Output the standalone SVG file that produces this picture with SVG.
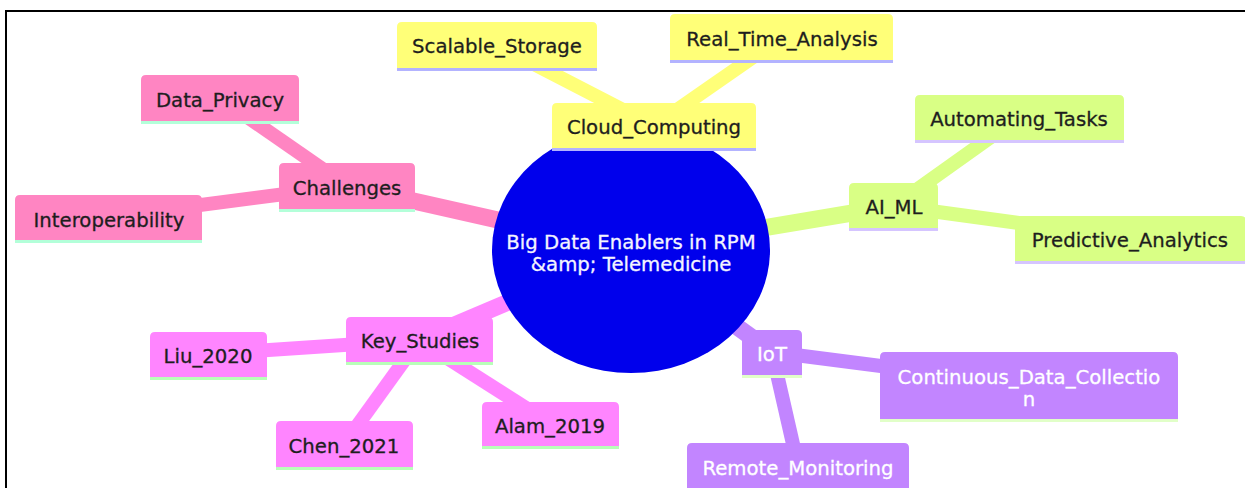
<svg xmlns="http://www.w3.org/2000/svg" width="1245" height="488" viewBox="0 0 1245 488">
  <style>
    text { font-family: "DejaVu Sans", Verdana, sans-serif; font-size: 19.7px; text-anchor: middle; fill: #1e1e1e; stroke: #1e1e1e; stroke-width: 0.3px; }
    .edge { fill: none; stroke-linecap: butt; }
    .d0 { stroke-width: 17; }
    .d1 { stroke-width: 14; }
    .line { stroke-width: 3; fill: none; }
    .pink { fill: #ff85c2; } .pink-e { stroke: #ff85c2; } .pink-l { stroke: #b3ffd9; }
    .yel { fill: #ffff78; } .yel-e { stroke: #ffff78; } .yel-l { stroke: #b3b3ff; }
    .grn { fill: #d9ff85; } .grn-e { stroke: #d9ff85; } .grn-l { stroke: #d5c5ff; }
    .mag { fill: #ff85ff; } .mag-e { stroke: #ff85ff; } .mag-l { stroke: #b8ffb8; }
    .pur { fill: #c285ff; } .pur-e { stroke: #c285ff; } .pur-l { stroke: #e1ffc8; }
    text.pur-t { fill: #ffffff; stroke: #ffffff; }
    text.root-t { fill: #f4f4ff; stroke: #f4f4ff; }
  </style>

  <!-- frame -->
  <line x1="5" y1="11" x2="1245" y2="11" stroke="#000" stroke-width="2"/>
  <line x1="6" y1="10" x2="6" y2="488" stroke="#000" stroke-width="2"/>

  <g id="connectors">
    <!-- root to sections -->
    <line class="edge d0 pink-e" x1="631" y1="250" x2="347" y2="186"/>
    <line class="edge d0 yel-e" x1="631" y1="250" x2="654" y2="126"/>
    <line class="edge d0 grn-e" x1="631" y1="250" x2="894" y2="206"/>
    <line class="edge d0 mag-e" x1="631" y1="250" x2="419" y2="340"/>
    <line class="edge d0 pur-e" x1="631" y1="250" x2="772" y2="352"/>
    <!-- section children -->
    <line class="edge d1 pink-e" x1="347" y1="186" x2="220" y2="98"/>
    <line class="edge d1 pink-e" x1="347" y1="186" x2="108" y2="217"/>
    <line class="edge d1 yel-e" x1="654" y1="126" x2="497" y2="45"/>
    <line class="edge d1 yel-e" x1="654" y1="126" x2="782" y2="37"/>
    <line class="edge d1 grn-e" x1="894" y1="206" x2="1019" y2="117"/>
    <line class="edge d1 grn-e" x1="894" y1="206" x2="1130" y2="238"/>
    <line class="edge d1 mag-e" x1="419" y1="340" x2="208" y2="354"/>
    <line class="edge d1 mag-e" x1="419" y1="340" x2="344" y2="444"/>
    <line class="edge d1 mag-e" x1="419" y1="340" x2="551" y2="424"/>
    <line class="edge d1 pur-e" x1="772" y1="352" x2="1029" y2="385"/>
    <line class="edge d1 pur-e" x1="772" y1="352" x2="798" y2="466"/>
  </g>

  <g id="root">
    <ellipse cx="631" cy="250" rx="139" ry="123" fill="#0000ec"/>
    <text class="root-t" x="631" y="249">Big Data Enablers in RPM</text>
    <text class="root-t" x="631" y="271">&amp;amp; Telemedicine</text>
  </g>

  <!-- Challenges branch -->
  <g id="challenges">
    <path class="pink" d="M279 209 V168 Q279 163 284 163 H410 Q415 163 415 168 V209 Z"/>
    <line class="line pink-l" x1="279" y1="210.5" x2="415" y2="210.5"/>
    <text x="347" y="195">Challenges</text>
  </g>
  <g id="data-privacy">
    <path class="pink" d="M141 121 V80 Q141 75 146 75 H294 Q299 75 299 80 V121 Z"/>
    <line class="line pink-l" x1="141" y1="122.5" x2="299" y2="122.5"/>
    <text x="220" y="107">Data_Privacy</text>
  </g>
  <g id="interoperability">
    <path class="pink" d="M15 240 V200 Q15 195 20 195 H197 Q202 195 202 200 V240 Z"/>
    <line class="line pink-l" x1="15" y1="241.5" x2="202" y2="241.5"/>
    <text x="109" y="227">Interoperability</text>
  </g>

  <!-- Cloud branch -->
  <g id="cloud-computing">
    <path class="yel" d="M552 148 V108 Q552 103 557 103 H751 Q756 103 756 108 V148 Z"/>
    <line class="line yel-l" x1="552" y1="149.5" x2="756" y2="149.5"/>
    <text x="654" y="134">Cloud_Computing</text>
  </g>
  <g id="scalable-storage">
    <path class="yel" d="M397 68 V27 Q397 22 402 22 H592 Q597 22 597 27 V68 Z"/>
    <line class="line yel-l" x1="397" y1="69.5" x2="597" y2="69.5"/>
    <text x="497" y="53">Scalable_Storage</text>
  </g>
  <g id="real-time-analysis">
    <path class="yel" d="M670 60 V19 Q670 14 675 14 H888 Q893 14 893 19 V60 Z"/>
    <line class="line yel-l" x1="670" y1="61.5" x2="893" y2="61.5"/>
    <text x="782" y="46">Real_Time_Analysis</text>
  </g>

  <!-- AI/ML branch -->
  <g id="ai-ml">
    <path class="grn" d="M849 228 V188 Q849 183 854 183 H933 Q938 183 938 188 V228 Z"/>
    <line class="line grn-l" x1="849" y1="229.5" x2="938" y2="229.5"/>
    <text x="894" y="214">AI_ML</text>
  </g>
  <g id="automating-tasks">
    <path class="grn" d="M915 140 V100 Q915 95 920 95 H1119 Q1124 95 1124 100 V140 Z"/>
    <line class="line grn-l" x1="915" y1="141.5" x2="1124" y2="141.5"/>
    <text x="1019" y="126">Automating_Tasks</text>
  </g>
  <g id="predictive-analytics">
    <path class="grn" d="M1015 261 V221 Q1015 216 1020 216 H1241 Q1246 216 1246 221 V261 Z"/>
    <line class="line grn-l" x1="1015" y1="262.5" x2="1246" y2="262.5"/>
    <text x="1130" y="247">Predictive_Analytics</text>
  </g>

  <!-- Key studies branch -->
  <g id="key-studies">
    <path class="mag" d="M346 362 V322 Q346 317 351 317 H488 Q493 317 493 322 V362 Z"/>
    <line class="line mag-l" x1="346" y1="363.5" x2="493" y2="363.5"/>
    <text x="420" y="348">Key_Studies</text>
  </g>
  <g id="liu-2020">
    <path class="mag" d="M150 377 V337 Q150 332 155 332 H262 Q267 332 267 337 V377 Z"/>
    <line class="line mag-l" x1="150" y1="378.5" x2="267" y2="378.5"/>
    <text x="208" y="363">Liu_2020</text>
  </g>
  <g id="chen-2021">
    <path class="mag" d="M276 467 V426 Q276 421 281 421 H408 Q413 421 413 426 V467 Z"/>
    <line class="line mag-l" x1="276" y1="468.5" x2="413" y2="468.5"/>
    <text x="344" y="453">Chen_2021</text>
  </g>
  <g id="alam-2019">
    <path class="mag" d="M482 446 V407 Q482 402 487 402 H614 Q619 402 619 407 V446 Z"/>
    <line class="line mag-l" x1="482" y1="447.5" x2="619" y2="447.5"/>
    <text x="550" y="433">Alam_2019</text>
  </g>

  <!-- IoT branch -->
  <g id="iot">
    <path class="pur" d="M742 375 V335 Q742 330 747 330 H797 Q802 330 802 335 V375 Z"/>
    <line class="line pur-l" x1="742" y1="376.5" x2="802" y2="376.5"/>
    <text class="pur-t" x="772" y="361">IoT</text>
  </g>
  <g id="continuous-data-collection">
    <path class="pur" d="M880 419 V357 Q880 352 885 352 H1173 Q1178 352 1178 357 V419 Z"/>
    <line class="line pur-l" x1="880" y1="420.5" x2="1178" y2="420.5"/>
    <text class="pur-t" x="1029" y="384">Continuous_Data_Collectio</text>
    <text class="pur-t" x="1029" y="406">n</text>
  </g>
  <g id="remote-monitoring">
    <path class="pur" d="M687 492 V448 Q687 443 692 443 H904 Q909 443 909 448 V492 Z"/>
    <text class="pur-t" x="798" y="475">Remote_Monitoring</text>
  </g>
</svg>
